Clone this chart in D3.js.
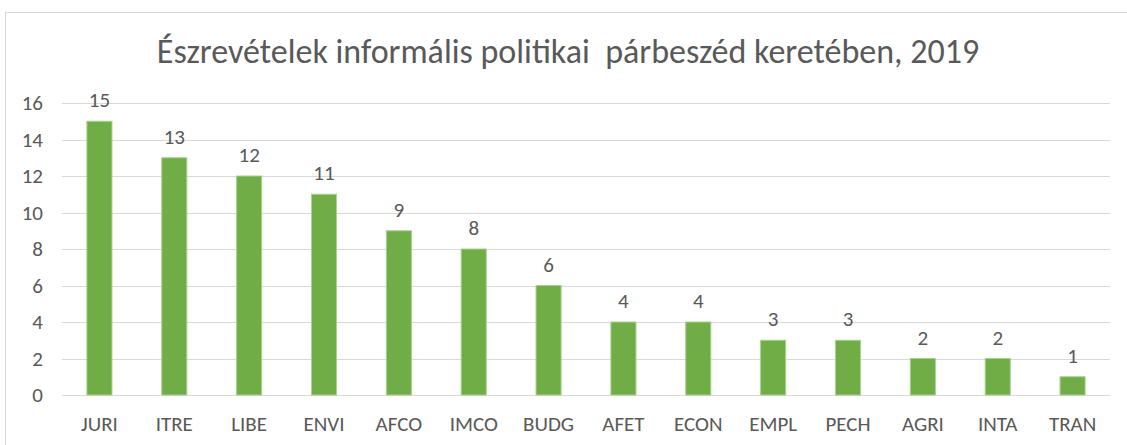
<!DOCTYPE html>
<html>
<head>
<meta charset="utf-8">
<script src="https://cdn.jsdelivr.net/npm/d3@7"></script>
<style>
  body { margin: 0; background: #fff; }
  text { font-family: Carlito, Calibri, Lato, sans-serif; fill: #595959; }
</style>
</head>
<body>
<div id="chart"></div>
<script>
// chart data
const committees = ["JURI", "ITRE", "LIBE", "ENVI", "AFCO", "IMCO", "BUDG",
                    "AFET", "ECON", "EMPL", "PECH", "AGRI", "INTA", "TRAN"];
const counts = [15, 13, 12, 11, 9, 8, 6, 4, 4, 3, 3, 2, 2, 1];
const yTicks = [0, 2, 4, 6, 8, 10, 12, 14, 16];
const title = "Észrevételek informális politikai  párbeszéd keretében, 2019";

const W = 1127, H = 445;
var margin = {top: 103, right: 17, bottom: 50, left: 62},
    width = W - margin.left - margin.right,
    height = H - margin.top - margin.bottom;

var svg = d3.select("#chart").append("svg")
    .attr("width", W)
    .attr("height", H);

// outer frame (right/bottom edges fall outside the picture)
svg.append("rect")
    .attr("x", 5.5).attr("y", 12.5)
    .attr("width", W + 10).attr("height", H + 10)
    .attr("fill", "none")
    .attr("stroke", "#d9d9d9");

svg.append("text")
    .attr("x", 568).attr("y", 63)
    .attr("text-anchor", "middle")
    .style("font-size", "34px")
    .style("white-space", "pre")
    .text(title);

var g = svg.append("g")
    .attr("transform", "translate(" + margin.left + "," + margin.top + ")");

var x = d3.scaleBand()
    .domain(committees)
    .range([0, width])
    .paddingInner(0.665)
    .paddingOuter(0.3325);

var y = d3.scaleLinear()
    .domain([0, 16])
    .range([height, 0]);

// gridlines
g.append("g")
  .selectAll("line")
  .data(yTicks)
  .enter().append("line")
    .attr("x1", 0).attr("x2", width)
    .attr("y1", d => Math.round(y(d)) + 0.5)
    .attr("y2", d => Math.round(y(d)) + 0.5)
    .attr("stroke", "#d9d9d9")
    .attr("stroke-width", 1);

// y axis labels
g.append("g")
    .call(d3.axisLeft(y).tickValues(yTicks).tickSize(0).tickPadding(19))
    .call(a => a.select(".domain").remove())
    .selectAll("text")
      .style("font-size", "21px")
      .attr("fill", "#595959");

// x axis labels
g.append("g")
    .attr("transform", "translate(0," + height + ")")
    .call(d3.axisBottom(x).tickSize(0).tickPadding(21))
    .call(a => a.select(".domain").remove())
    .selectAll("text")
      .style("font-size", "21px")
      .attr("fill", "#595959");

// bars
g.selectAll(".bar")
  .data(committees)
  .enter().append("rect")
    .attr("class", "bar")
    .attr("x", (d) => x(d))
    .attr("y", (d, i) => y(counts[i]))
    .attr("width", x.bandwidth())
    .attr("height", (d, i) => height - y(counts[i]))
    .attr("fill", "#70ad47")
    .attr("stroke", "#a9d18e")
    .attr("stroke-width", 1);

// value labels
g.selectAll(".val")
  .data(committees)
  .enter().append("text")
    .attr("class", "val")
    .attr("x", (d) => x(d) + x.bandwidth() / 2)
    .attr("y", (d, i) => y(counts[i]) - 14)
    .attr("text-anchor", "middle")
    .style("font-size", "21px")
    .text((d, i) => counts[i]);
</script>
</body>
</html>
